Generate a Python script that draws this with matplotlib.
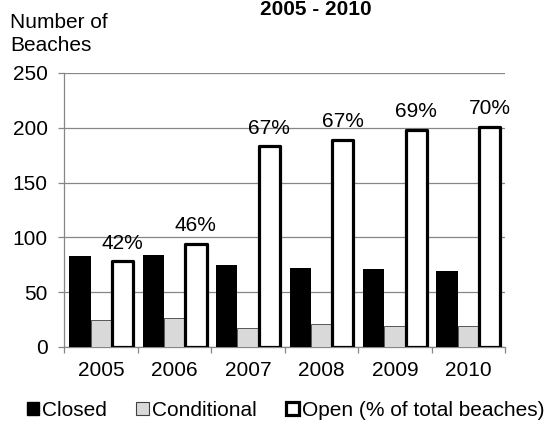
import numpy as np
import matplotlib
matplotlib.use('Agg')
import matplotlib.pyplot as plt
from matplotlib.patches import Patch

plt.rcParams['font.family'] = ['Liberation Sans', 'DejaVu Sans']

# beach status counts per year
years = ['2005', '2006', '2007', '2008', '2009', '2010']
closed = [83, 84, 75, 72, 71, 69]
conditional = [25, 26, 17, 21, 19, 19]
open_beaches = [78, 94, 183, 189, 198, 201]
open_pct = ['42%', '46%', '67%', '67%', '69%', '70%']

fs = 15
grid_col = '#868686'
cond_col = '#d9d9d9'

fig = plt.figure(figsize=(5.48, 4.23), dpi=100)
ax = fig.add_axes([0.1177, 0.1797, 0.8038, 0.6478])

x = np.arange(len(years))
w = 0.29

ax.bar(x - w, closed, w, color='black', zorder=3)
ax.bar(x, conditional, w, color=cond_col, edgecolor='#404040', linewidth=0.6, zorder=3)
bars = ax.bar(x + w, open_beaches, w, color='white', edgecolor='black',
              linewidth=2.3, joinstyle='round', zorder=4)

# percentage labels over the open bars
for xi, val, lab in zip(x + w, open_beaches, open_pct):
    ax.annotate(lab, (xi, val), xytext=(0, 9), textcoords='offset points',
                ha='center', va='baseline', fontsize=fs)

ax.set_ylim(0, 250)
ax.set_xlim(-0.5, len(years) - 0.5)
ax.set_yticks(np.arange(0, 251, 50))
ax.yaxis.grid(True, color=grid_col, linewidth=0.9)
ax.set_axisbelow(True)

# tick marks between groups, year labels at group centres
ax.set_xticks(np.arange(len(years) + 1) - 0.5)
ax.set_xticklabels([])
ax.set_xticks(x, minor=True)
ax.set_xticklabels(years, minor=True, fontsize=fs)
ax.tick_params(axis='x', which='major', length=4, color=grid_col, width=0.9)
ax.tick_params(axis='x', which='minor', length=0, pad=10)
ax.tick_params(axis='y', length=4, color=grid_col, width=0.9, pad=8, labelsize=fs)

for s in ['top', 'right']:
    ax.spines[s].set_visible(False)
for s in ['left', 'bottom']:
    ax.spines[s].set_color(grid_col)
    ax.spines[s].set_linewidth(0.9)

fig.text(10 / 548, 1 - 51 / 423, 'Number of\nBeaches', fontsize=fs, va='baseline', ha='left',
         linespacing=1.28)
fig.text(316 / 548, 1 - 15 / 423, '2005 - 2010', fontsize=fs, fontweight='bold',
         ha='center', va='baseline')

handles = [
    Patch(facecolor='black', edgecolor='black', label='Closed'),
    Patch(facecolor=cond_col, edgecolor='#404040', linewidth=0.8, label='Conditional'),
    Patch(facecolor='white', edgecolor='black', linewidth=2.3, label='Open (% of total beaches)'),
]
fig.legend(handles=handles, loc='center', bbox_to_anchor=(285.5 / 548, 1 - 410 / 423),
           ncol=3, frameon=False, fontsize=fs, handlelength=0.6, handleheight=0.6,
           handletextpad=0.15, columnspacing=1.4, borderpad=0, borderaxespad=0)

fig.savefig('out.png', dpi=100)
